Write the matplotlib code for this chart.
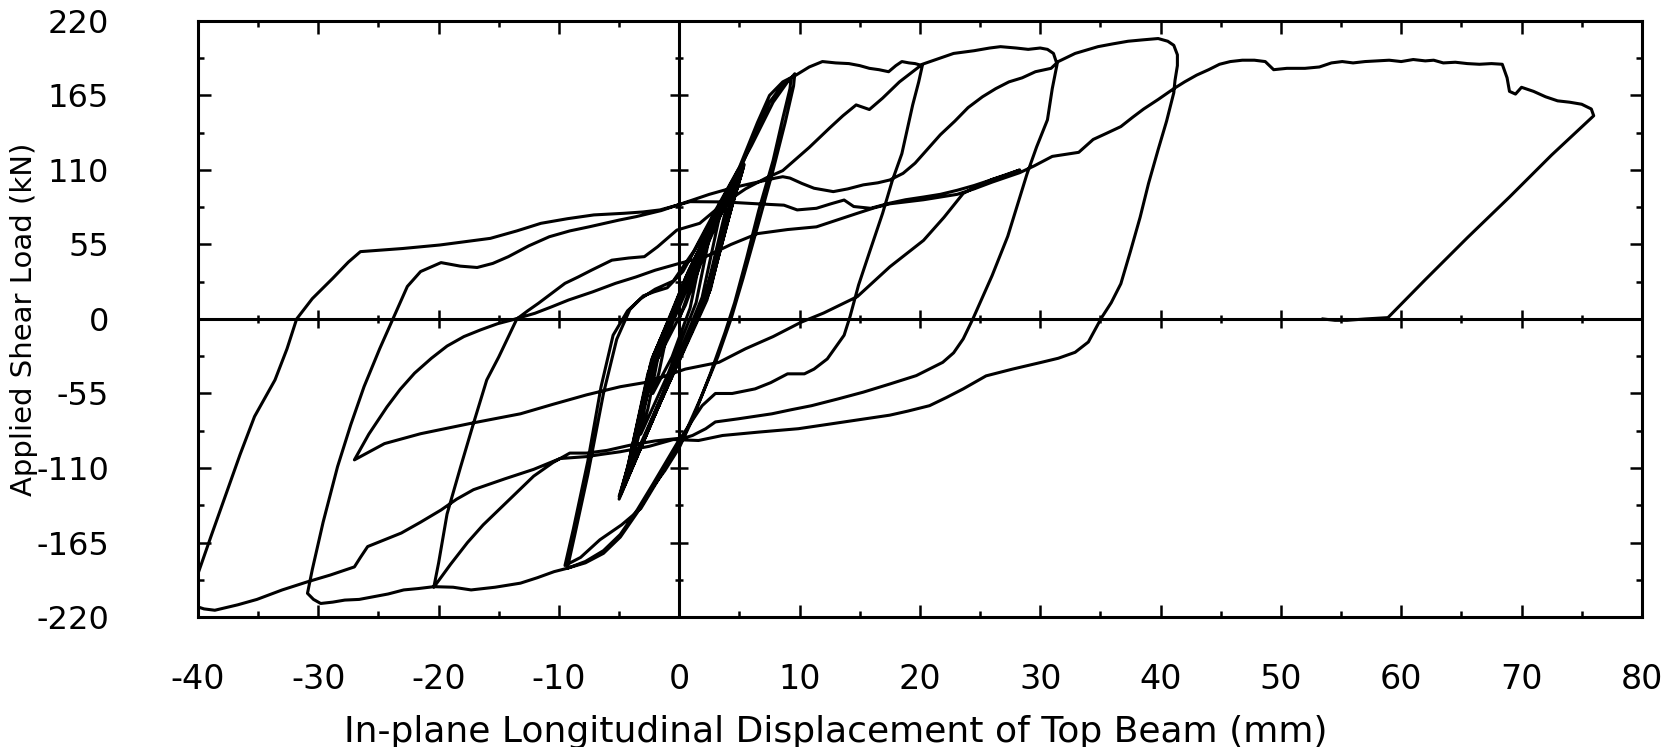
import numpy as np
import matplotlib
matplotlib.use("Agg")
import matplotlib.pyplot as plt
from matplotlib.ticker import MultipleLocator

# --- load path, split by loading stage (disp in mm, load in kN) ---
elastic_disp = [0,
                2.0, 1.5, 0.9, -0.6, -2.2, -1.7, -1.0, 0.4,
                3.0, 2.4, 1.4, -1.0, -3.2, -2.6, -1.5, 0.5,
                4.0, 3.3, 1.9, -1.4, -4.0, -3.3, -1.9, 0.8,
                4.6, 3.9, 2.2, -1.6, -4.5, -3.7, -2.1, 1.0,
                5.0, 4.3, 2.4, -1.7, -4.8, -4.0, -2.2, 1.1,
                5.3, 4.5, 2.5, -1.8, -5.0, -4.2, -2.3, 1.2,
                5.2, 4.4, 2.3, -1.9, -4.9, -4.1, -2.0, 1.3,
                5.1, 4.3, 2.6, -1.5, -4.7, -3.9, -2.4, 0.9,
                5.4, 4.6, 2.2, -2.0, -5.0, -4.3, -2.6, 1.0,
                5.0, 4.1, 2.0, -1.8, -4.6, -3.8, -2.1, 1.3,
                5.3, 4.4, 2.4, -1.6, -4.9, -4.0, -2.0]
elastic_load = [0,
                50, 34, 8, -28, -55, -40, -10, 22,
                75, 56, 12, -42, -85, -66, -16, 30,
                95, 74, 16, -56, -108, -84, -22, 36,
                104, 82, 18, -62, -120, -94, -26, 38,
                110, 86, 18, -64, -128, -102, -28, 38,
                112, 88, 20, -66, -133, -106, -30, 40,
                108, 84, 14, -68, -130, -104, -33, 36,
                110, 86, 22, -60, -126, -100, -34, 30,
                114, 90, 16, -70, -131, -110, -40, 32,
                106, 80, 12, -64, -124, -98, -30, 38,
                111, 85, 18, -62, -129, -102, -33]

c10_disp = [0.5, 2.5, 4.5, 6.2, 7.5, 8.6, 9.3, 9.2, 8.6, 7.8, 6.6, 5.6, 4.6,
            3.8, 2.6, 1.2, 0.0, -1.2, -2.2, -3.5, -4.9, -6.3, -7.8, -9.3, -8.7,
            -7.6, -6.3, -5.2, -4.1, -3.0, -2.1, -1.0, 0.3, 2.0, 4.0, 6.0, 7.8,
            9.0, 9.6, 9.5, 8.8, 7.8, 6.5, 5.3, 4.3, 3.2, 1.8, 0.3, -1.5, -3.2,
            -4.8, -6.6, -8.2, -9.5, -8.8, -7.6, -6.5, -5.5, -4.3, -3.2, -2.0,
            -0.5, 1.2, 3.0]
c10_load = [10, 58, 98, 135, 160, 173, 178, 170, 148, 117, 80, 45, 12,
            -10, -40, -72, -95, -112, -124, -143, -161, -173, -180, -184, -160,
            -115, -55, -15, 7, 17, 20, 23, 35, 62, 95, 128, 160,
            175, 181, 172, 145, 110, 68, 30, 0, -28, -58, -88, -115, -140,
            -152, -163, -176, -182, -155, -105, -50, -12, 6, 15, 22,
            28, 50, 80]

c20_disp = [5.0, 6.5, 7.5, 8.6, 9.7, 10.8, 11.9, 13.0, 14.1, 15.0, 15.8, 16.6,
            17.4, 18.0, 18.5, 19.1, 19.6, 20.2, 19.9, 19.4, 18.5, 17.7, 16.9,
            15.8, 14.9, 14.2, 13.7, 12.3, 11.2, 10.4, 9.0, 7.6, 6.3, 4.4, 3.0,
            1.9, 0.8, 0.1, -2.0, -4.0, -6.0, -7.7, -9.1, -10.5, -12.1, -13.5,
            -14.9, -16.3, -17.6, -19.0, -20.4, -20.0, -19.3, -18.2, -17.1, -16.0,
            -15.0, -14.3, -13.5, -12.6, -11.7, -10.6, -9.5, -8.4, -7.3, -5.6,
            -4.2, -2.9, -1.8, -0.2, 1.7, 3.5, 5.5, 7.2, 8.6, 9.7, 10.8, 12.5,
            13.6, 14.7, 15.8, 16.9, 17.6, 18.3, 19.4, 20.2]
c20_load = [112, 145, 165, 175, 180, 186, 190, 189, 188.5, 187, 185, 184,
            182.5, 187, 190, 189, 188.5, 187, 175, 158, 122, 102, 78,
            49, 25, 2, -12, -29.5, -37, -40.5, -40.5, -47, -51.6, -55, -55,
            -64, -78.6, -88, -90, -93, -97, -99, -99, -106, -116, -128,
            -140, -152, -165, -181, -198, -180, -144, -110, -77, -45,
            -28, -15, 0, 6, 11.6, 19, 26.3, 31, 36, 43.4,
            45, 46, 53.3, 65.6, 70.6, 84, 96, 104, 109.5, 118, 126.6, 141,
            150, 158, 154.6, 163, 169, 175, 182.5, 188]

c30_disp = [21.5, 22.8, 24.5, 25.8, 26.7, 28.0, 29.0, 30.0, 30.6, 31.1, 31.4,
            31.0, 30.6, 29.7, 28.9, 28.1, 27.3, 26.0, 24.4, 23.6, 22.8, 21.9,
            19.7, 17.5, 15.3, 13.2, 11.0, 9.3, 7.7, 4.9, 3.0, 2.2, 1.1, 0.0,
            -1.0, -2.2, -3.5, -4.9, -6.3, -7.8, -9.3, -10.4, -11.8, -13.2,
            -15.3, -17.3, -18.8, -20.4, -21.7, -22.9, -24.2, -25.4, -26.6,
            -27.8, -28.8, -29.8, -30.4, -30.9, -30.5, -29.6, -28.4, -27.3,
            -26.2, -24.9, -23.7, -22.6, -21.5, -19.8, -18.2, -16.8, -15.5,
            -14.2, -12.5, -10.8, -9.1, -7.5, -5.0, -3.6, -1.5, 0.5, 2.5, 4.5,
            6.5, 8.0]
c30_load = [192, 196, 198, 200, 201, 200, 199, 200, 199, 196, 188,
            170, 147, 127, 107, 84, 61, 32, 0, -14.7, -25, -32,
            -41.8, -48, -54, -59, -64, -67, -70, -73.7, -76, -81, -86, -89,
            -104, -122, -141, -159, -171, -179, -184, -186.5, -191, -195,
            -198, -200, -198, -197.6, -199, -200, -203, -205, -207,
            -207.5, -209, -210, -207, -202.5, -185, -150, -109, -78,
            -50, -22, 2, 24, 35, 41.6, 39, 38, 41,
            46, 54, 60.7, 65, 68, 73, 75.5, 80, 86, 92, 97,
            101, 104]

c40_disp = [8.6, 9.2, 10.2, 11.2, 12.8, 14.0, 15.3, 16.5, 17.5, 18.6, 19.6,
            20.5, 21.7, 22.9, 24.0, 25.2, 26.3, 27.4, 28.5, 29.6, 30.9, 31.5,
            32.9, 34.8, 36.0, 37.3, 38.5, 39.8, 40.6, 41.1, 41.4, 41.4, 41.2,
            41.1, 40.5, 39.8, 39.0, 38.3, 37.5, 36.7, 35.9, 35.1, 34.0, 32.9,
            31.5, 30.1, 27.7, 25.5, 23.6, 22.2, 20.8, 19.0, 17.5, 13.7, 9.9,
            6.6, 3.6, 1.6, -0.5, -2.5, -4.9, -6.5, -7.7, -9.9, -11.0, -12.1,
            -14.5, -17.1, -18.5, -19.8, -21.5, -23.1, -24.5, -25.9, -26.5,
            -27.0, -29.0, -30.9, -33.0, -35.1, -36.7, -38.6, -39.5, -40.2]
c40_load = [105, 104, 100, 96.5, 94, 96, 99, 100.5, 102.6, 107.5, 115,
            124, 136, 146, 156, 164, 170, 175, 178, 182.5, 185, 190,
            196, 201, 203, 205, 206, 207, 205, 202, 195, 187, 176,
            167, 146, 125, 100, 75, 50, 26, 12, 1, -17, -24.6,
            -29, -32, -37, -42, -51.6, -58, -64, -68, -71, -76, -81,
            -83.5, -86, -89.7, -89, -94, -98, -100, -101.6, -103, -107, -111,
            -118, -126, -133, -141, -150, -158, -163, -168, -176,
            -183, -189, -194, -200, -207, -211, -215, -214, -212]

reload_disp = [-40.2, -40.0, -38.9, -37.7, -36.5, -35.3, -33.6, -32.6, -31.8,
               -30.5, -28.8, -27.5, -26.5, -23.0, -19.9, -15.7, -13.5, -11.5,
               -9.3, -7.1, -4.6, -3.0, -1.6, 0.9, 3.7, 6.5, 8.7, 9.8, 11.4,
               12.6, 13.7, 14.5, 15.9, 17.5, 18.8, 20.3, 21.7, 23.1, 24.5,
               25.9, 27.1, 28.3]
reload_load = [-200, -188, -160, -130, -100, -72, -45, -22, 0,
               15, 30, 42, 49.7, 52, 54.6, 59.5, 65, 70.6,
               74, 76.8, 78, 79, 80.5, 86.6, 86.4, 85, 84, 80.5, 81.7,
               85, 87.8, 83, 81.7, 85.5, 88, 90, 92, 95, 98.5,
               102.6, 106, 110]

partial_disp = [26.0, 24.8, 23.6, 22.0, 20.3, 17.5, 14.8, 12.0, 10.1, 7.8, 5.5,
                3.3, 0.5, -2.7, -4.9, -7.7, -10.5, -13.2, -17.3, -21.5, -24.5,
                -27.0, -25.8, -24.3, -23.2, -22.0, -20.6, -19.3, -17.9, -16.5,
                -15.1, -13.9, -12.0, -10.6, -9.2, -7.2, -5.3, -3.6, -2.0, 0.0,
                2.2, 4.3, 6.5, 9.0, 11.4, 13.1, 14.8, 16.2, 17.5, 20.3, 23.1,
                24.5, 26.0, 28.3, 29.5]
partial_load = [103, 98, 92.7, 75, 58, 38.5, 16.5, 4.4, -2.5, -13, -22,
                -32, -37, -46.7, -50, -56, -63, -70, -77, -84.7, -92,
                -104, -85, -65, -52, -40, -29, -20, -13, -8,
                -3.5, -0.7, 4.2, 9, 14, 20, 26.3, 31, 36, 41,
                46, 55, 63, 66, 68, 73, 78, 82, 85, 88, 92,
                96, 101, 108, 113]

final_disp = [31.0, 33.2, 34.4, 35.5, 36.7, 37.7, 38.6, 39.8, 41.1, 42.0, 43.0,
              44.0, 44.9, 45.8, 46.8, 47.8, 48.7, 49.4, 50.5, 52.0, 53.2, 54.2,
              55.1, 56.0, 57.0, 58.0, 59.0, 60.0, 61.0, 62.0, 62.7, 63.5, 64.5,
              65.5, 66.5, 67.5, 68.4, 68.8, 69.0, 69.5, 70.0, 71.0, 72.0, 73.0,
              74.0, 75.0, 75.8, 76.0, 72.5, 69.0, 65.5, 62.0, 59.2, 58.9, 57.0,
              55.5, 54.5, 53.5]
final_load = [120, 123, 132.5, 137, 142, 149, 155, 162, 170, 175, 180,
              184, 188, 190, 191, 191, 190, 184, 185, 185, 186, 189,
              190, 189, 190, 190.5, 191, 190, 191.5, 190.5, 191, 189, 189.5,
              188.5, 188, 188.5, 188, 178, 168, 166, 171, 168, 164, 161,
              160, 158.5, 155, 150, 121, 90, 60, 29, 3.7, 1, 0,
              -1, -1, 0]

x_ticks = [-40, -30, -20, -10, 0, 10, 20, 30, 40, 50, 60, 70, 80]
y_ticks = [-220, -165, -110, -55, 0, 55, 110, 165, 220]

disp = np.concatenate([elastic_disp, c10_disp, c20_disp, c30_disp, c40_disp,
                       reload_disp, partial_disp, final_disp])
load = np.concatenate([elastic_load, c10_load, c20_load, c30_load, c40_load,
                       reload_load, partial_load, final_load])

plt.rcParams['font.family'] = ['DejaVu Sans']
plt.rcParams['axes.unicode_minus'] = False

fig = plt.figure(figsize=(16.75, 7.47), dpi=100)
ax = fig.add_axes([0.1182, 0.174, 0.862, 0.798])

ax.plot(disp, load, color='black', lw=2.2, solid_joinstyle='round')

# zero lines through the middle, with their own tick marks
ax.axhline(0, color='black', lw=2.2)
ax.axvline(0, color='black', lw=2.2)
inner_x = [t for t in x_ticks if t not in (-40, 0, 80)]
inner_x_minor = [t + 5 for t in x_ticks[:-1] if t + 5 != 0]
inner_y = [t for t in y_ticks if t not in (-220, 0, 220)]
inner_y_minor = [t + 27.5 for t in y_ticks[:-1]]
ax.plot(inner_x, np.zeros(len(inner_x)), ls='none', marker='|', ms=13,
        mew=1.8, color='black')
ax.plot(inner_x_minor, np.zeros(len(inner_x_minor)), ls='none', marker='|',
        ms=6, mew=1.8, color='black')
ax.plot(np.zeros(len(inner_y)), inner_y, ls='none', marker='_', ms=13,
        mew=1.8, color='black')
ax.plot(np.zeros(len(inner_y_minor)), inner_y_minor, ls='none', marker='_',
        ms=6, mew=1.8, color='black')

ax.set_xlim(-40, 80)
ax.set_ylim(-220, 220)
ax.set_xticks(x_ticks)
ax.set_yticks(y_ticks)
ax.xaxis.set_minor_locator(MultipleLocator(5))
ax.yaxis.set_minor_locator(MultipleLocator(27.5))
ax.tick_params(which='both', direction='in', top=True, right=True, width=1.8)
ax.tick_params(which='major', length=9)
ax.tick_params(which='minor', length=4.5)
ax.tick_params(axis='x', pad=33, labelsize=24)
ax.tick_params(axis='y', pad=64, labelsize=23)
for sp in ax.spines.values():
    sp.set_linewidth(2.2)

fig.text(0.499, 0.02, 'In-plane Longitudinal Displacement of Top Beam (mm)',
         ha='center', va='center', fontsize=26)
fig.text(0.0143, 0.572, 'Applied Shear Load (kN)', rotation=90,
         ha='center', va='center', fontsize=21)

fig.savefig('out.png', dpi=100, facecolor='white')
